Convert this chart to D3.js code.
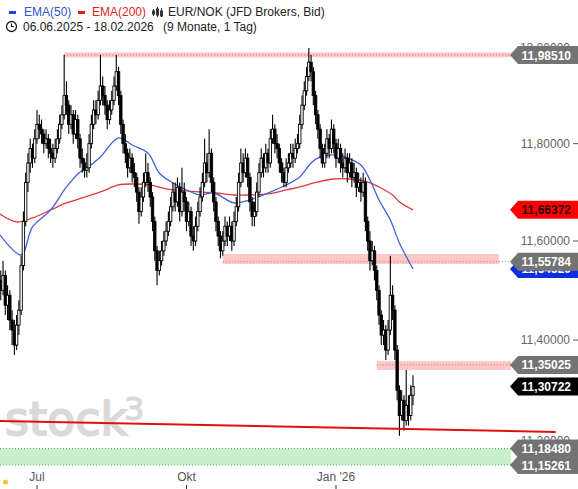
<!DOCTYPE html>
<html>
<head>
<meta charset="utf-8">
<script src="https://cdn.jsdelivr.net/npm/d3@7"></script>
<style>
  html, body { margin: 0; padding: 0; background: #fff; }
  svg { display: block; font-family: "Liberation Sans", Arial, sans-serif; }
</style>
</head>
<body>
<svg id="chart" width="578" height="489"></svg>
<script>
// daily bars EUR/NOK, 06.06.2025 - 18.02.2026 (weekdays)
const closes = [
  11.52, 11.50, 11.53, 11.47, 11.49, 11.44, 11.42, 11.39, 11.43, 11.46,
  11.55, 11.64, 11.72, 11.76, 11.79, 11.77, 11.81, 11.84, 11.83, 11.82,
  11.80, 11.81, 11.79, 11.78, 11.77, 11.79, 11.81, 11.84, 11.86, 11.90,
  11.88, 11.84, 11.86, 11.82, 11.85, 11.81, 11.77, 11.76, 11.745, 11.75,
  11.80, 11.84, 11.87, 11.86, 11.89, 11.92, 11.90, 11.88, 11.85, 11.87,
  11.89, 11.92, 11.95, 11.90, 11.84, 11.80, 11.78, 11.75, 11.77, 11.74,
  11.73, 11.70, 11.66, 11.69, 11.72, 11.74, 11.72, 11.69, 11.64, 11.58,
  11.54, 11.56, 11.58, 11.60, 11.62, 11.64, 11.67, 11.70, 11.68, 11.71,
  11.66, 11.70, 11.68, 11.64, 11.66, 11.61, 11.60, 11.63, 11.66, 11.69,
  11.72, 11.76, 11.74, 11.78, 11.72, 11.68, 11.64, 11.61, 11.58, 11.60,
  11.63, 11.61, 11.63, 11.60, 11.64, 11.67, 11.72, 11.76, 11.74, 11.77,
  11.73, 11.68, 11.65, 11.66, 11.70, 11.74, 11.77, 11.75, 11.78, 11.76,
  11.81, 11.83, 11.80, 11.79, 11.76, 11.74, 11.72, 11.75, 11.76, 11.78,
  11.77, 11.79, 11.80, 11.84, 11.88, 11.91, 11.94, 11.97, 11.95, 11.90,
  11.86, 11.83, 11.79, 11.76, 11.78, 11.81, 11.79, 11.83, 11.80, 11.77,
  11.79, 11.76, 11.75, 11.77, 11.74, 11.76, 11.73, 11.74, 11.71, 11.72,
  11.70, 11.72, 11.64, 11.60, 11.56, 11.58, 11.54, 11.50, 11.45, 11.41,
  11.42, 11.38, 11.42, 11.49, 11.46, 11.38, 11.30, 11.25, 11.28, 11.24,
  11.27, 11.25, 11.29, 11.30722
];
const highs = [
  11.55, 11.54, 11.56, 11.54, 11.51, 11.50, 11.46, 11.44, 11.45, 11.48,
  11.57, 11.66, 11.74, 11.78, 11.81, 11.80, 11.83, 11.87, 11.86, 11.85,
  11.83, 11.83, 11.82, 11.81, 11.80, 11.81, 11.83, 11.86, 11.88, 11.985,
  11.93, 11.89, 11.88, 11.87, 11.87, 11.86, 11.82, 11.79, 11.77, 11.78,
  11.82, 11.86, 11.89, 11.89, 11.91, 11.985, 11.94, 11.92, 11.89, 11.89,
  11.91, 11.94, 11.985, 11.96, 11.91, 11.85, 11.82, 11.79, 11.79, 11.78,
  11.76, 11.74, 11.71, 11.71, 11.74, 11.78, 11.76, 11.73, 11.70, 11.65,
  11.59, 11.58, 11.60, 11.62, 11.64, 11.66, 11.69, 11.72, 11.72, 11.73,
  11.72, 11.75, 11.72, 11.69, 11.68, 11.67, 11.63, 11.65, 11.68, 11.71,
  11.74, 11.81, 11.78, 11.83, 11.79, 11.73, 11.69, 11.65, 11.62, 11.62,
  11.65, 11.64, 11.65, 11.64, 11.66, 11.69, 11.74, 11.79, 11.78, 11.79,
  11.78, 11.74, 11.69, 11.68, 11.72, 11.76, 11.79, 11.78, 11.80, 11.79,
  11.83, 11.86, 11.84, 11.82, 11.80, 11.77, 11.75, 11.77, 11.78, 11.80,
  11.80, 11.81, 11.82, 11.86, 11.90, 11.93, 11.96, 12.00, 11.985, 11.96,
  11.91, 11.87, 11.84, 11.80, 11.80, 11.83, 11.82, 11.85, 11.84, 11.81,
  11.81, 11.80, 11.78, 11.79, 11.78, 11.78, 11.77, 11.76, 11.75, 11.74,
  11.73, 11.74, 11.73, 11.65, 11.62, 11.60, 11.59, 11.55, 11.51, 11.46,
  11.44, 11.43, 11.44, 11.57, 11.51, 11.47, 11.39, 11.31, 11.30, 11.29,
  11.34, 11.29, 11.31, 11.33
];
const lows = [
  11.49, 11.48, 11.49, 11.45, 11.44, 11.42, 11.39, 11.37, 11.38, 11.41,
  11.45, 11.54, 11.63, 11.70, 11.74, 11.75, 11.76, 11.80, 11.81, 11.80,
  11.78, 11.79, 11.77, 11.76, 11.75, 11.76, 11.78, 11.80, 11.83, 11.85,
  11.86, 11.82, 11.83, 11.80, 11.81, 11.79, 11.75, 11.74, 11.73, 11.73,
  11.74, 11.79, 11.83, 11.84, 11.85, 11.88, 11.88, 11.86, 11.83, 11.84,
  11.86, 11.88, 11.91, 11.88, 11.82, 11.78, 11.76, 11.73, 11.74, 11.72,
  11.71, 11.68, 11.635, 11.65, 11.68, 11.71, 11.70, 11.67, 11.62, 11.56,
  11.51, 11.53, 11.55, 11.57, 11.59, 11.61, 11.63, 11.66, 11.66, 11.67,
  11.64, 11.65, 11.66, 11.62, 11.63, 11.59, 11.58, 11.59, 11.62, 11.65,
  11.68, 11.71, 11.72, 11.73, 11.70, 11.66, 11.62, 11.59, 11.565, 11.57,
  11.59, 11.59, 11.60, 11.58, 11.59, 11.63, 11.66, 11.71, 11.72, 11.73,
  11.71, 11.66, 11.63, 11.63, 11.65, 11.69, 11.73, 11.73, 11.74, 11.74,
  11.75, 11.80, 11.78, 11.77, 11.74, 11.72, 11.71, 11.71, 11.74, 11.75,
  11.75, 11.76, 11.78, 11.79, 11.83, 11.87, 11.90, 11.93, 11.93, 11.88,
  11.84, 11.81, 11.77, 11.75, 11.75, 11.77, 11.77, 11.78, 11.78, 11.75,
  11.76, 11.74, 11.73, 11.74, 11.72, 11.73, 11.71, 11.72, 11.69, 11.70,
  11.68, 11.69, 11.62, 11.58, 11.54, 11.55, 11.52, 11.48, 11.43, 11.39,
  11.39, 11.36, 11.37, 11.41, 11.44, 11.36, 11.28, 11.21, 11.24, 11.22,
  11.23, 11.23, 11.24, 11.27
];
const firstOpen = 11.53;

// moving averages, read at bar positions
const ema50Bars = [0, 10, 15, 23, 30, 36, 39, 45, 53, 59, 66, 71, 77, 83, 89, 95, 104, 111, 119, 127, 133, 138, 142, 148, 154, 160, 164, 168, 173, 177, 183];
const ema50Vals = [11.6164, 11.5716, 11.6286, 11.6634, 11.7106, 11.7415, 11.7497, 11.7725, 11.8118, 11.7972, 11.7806, 11.7394, 11.7188, 11.7044, 11.6941, 11.6982, 11.6777, 11.6839, 11.6982, 11.7147, 11.7311, 11.7600, 11.7725, 11.7766, 11.7704, 11.7560, 11.7250, 11.6839, 11.6429, 11.5960, 11.5432];
const ema200Bars = [0, 8, 15, 23, 30, 37, 45, 53, 59, 67, 74, 83, 89, 96, 104, 111, 119, 127, 133, 141, 148, 155, 163, 168, 174, 177, 183];
const ema200Vals = [11.6572, 11.6389, 11.6470, 11.6634, 11.6777, 11.6880, 11.7003, 11.7147, 11.7167, 11.7147, 11.7065, 11.7024, 11.7003, 11.6982, 11.6941, 11.6941, 11.6962, 11.7044, 11.7106, 11.7209, 11.7270, 11.7270, 11.7209, 11.7106, 11.6941, 11.6798, 11.66372];

// drawn levels and zones
const levelVals = [11.98510, 11.55784, 11.35025];
const levelStartBars = [29, 99, 167];
const zoneHi = [11.9905, 11.5736, 11.3582];
const zoneLo = [11.9800, 11.5533, 11.3403];
const supportHi = 11.18480;
const supportLo = 11.15261;
const trendBars = [0, 246];
const trendVals = [11.2392, 11.2175];

const yTicks = [11.2, 11.4, 11.6, 11.8, 12.0];
const xTickDates = ["2025-07-01", "2025-10-01", "2026-01-01"];
const xTickLabels = ["Jul", "Okt", "Jan '26"];

// ------------------------------------------------------------------
const svg = d3.select("#chart");
const fmt = v => d3.format(".5f")(v).replace(".", ",");

const days = d3.timeDay.range(new Date(2025, 5, 6), new Date(2026, 1, 19))
    .filter(d => d.getDay() !== 0 && d.getDay() !== 6);
const n = Math.min(days.length, closes.length);

const x = d3.scaleLinear().domain([0, 183]).range([-1.5, 413]);
const y = d3.scaleLog().domain([supportLo, levelVals[0]]).range([465, 55]);

const bars = d3.range(n).map(i => ({
    i: i,
    open: i ? closes[i - 1] : firstOpen,
    close: closes[i],
    high: highs[i],
    low: lows[i]
}));

// watermark
const wm = svg.append("g").attr("fill", "#d9d9d9").attr("stroke", "#d9d9d9")
    .style("font-family", "'DejaVu Sans', sans-serif");
wm.append("text").attr("x", 5).attr("y", 435).attr("font-size", 46)
    .attr("stroke-width", 2).text("stock");
wm.append("text").attr("x", 124).attr("y", 420).attr("font-size", 32)
    .attr("stroke-width", 1.2).text("3");

// support zone (green)
svg.append("rect")
    .attr("x", 0).attr("width", 511)
    .attr("y", y(supportHi)).attr("height", y(supportLo) - y(supportHi))
    .attr("fill", "#c9efc9");
[supportHi, supportLo].forEach(v => {
    svg.append("line")
        .attr("x1", 0).attr("x2", 511).attr("y1", y(v)).attr("y2", y(v))
        .attr("stroke", "#5aa85a").attr("stroke-width", 1)
        .attr("stroke-dasharray", "1,2");
});

// resistance zones (pink)
const zoneEnd = [511, 499, 511];
levelVals.forEach((v, k) => {
    const x0 = x(levelStartBars[k]);
    svg.append("rect")
        .attr("x", x0).attr("width", zoneEnd[k] - x0)
        .attr("y", y(zoneHi[k])).attr("height", y(zoneLo[k]) - y(zoneHi[k]))
        .attr("fill", "#ffc9c9");
    svg.append("line")
        .attr("x1", x0).attr("x2", 511).attr("y1", y(v)).attr("y2", y(v))
        .attr("stroke", "#cc6666").attr("stroke-width", 1)
        .attr("stroke-dasharray", "1,2");
});

// moving averages
const line = d3.line().x(d => x(d[0])).y(d => y(d[1])).curve(d3.curveCatmullRom);
svg.append("path")
    .attr("d", line(d3.zip(ema200Bars, ema200Vals)))
    .attr("fill", "none").attr("stroke", "#dd3b3b").attr("stroke-width", 1.3);
svg.append("path")
    .attr("d", line(d3.zip(ema50Bars, ema50Vals)))
    .attr("fill", "none").attr("stroke", "#3f62d8").attr("stroke-width", 1.3);

// candles
const cg = svg.append("g");
cg.selectAll("line").data(bars).join("line")
    .attr("x1", d => x(d.i)).attr("x2", d => x(d.i))
    .attr("y1", d => y(d.high)).attr("y2", d => y(d.low))
    .attr("stroke", "#000").attr("stroke-width", 1.1);
cg.selectAll("rect").data(bars).join("rect")
    .attr("x", d => x(d.i) - 1.2).attr("width", 2.4)
    .attr("y", d => y(Math.max(d.open, d.close)))
    .attr("height", d => Math.max(1, Math.abs(y(d.open) - y(d.close))))
    .attr("fill", d => d.close >= d.open ? "#fff" : "#000")
    .attr("stroke", "#000").attr("stroke-width", 0.9);

// trend line
svg.append("path")
    .attr("d", d3.line().x(d => x(d[0])).y(d => y(d[1]))(d3.zip(trendBars, trendVals)))
    .attr("stroke", "#e01010").attr("stroke-width", 2).attr("fill", "none");

// y axis labels
const ya = svg.append("g").attr("font-size", 12).attr("fill", "#666");
yTicks.forEach(v => {
    ya.append("text").attr("x", 570).attr("y", y(v) + 4)
        .attr("text-anchor", "end").text(fmt(v));
    ya.append("line").attr("x1", 573).attr("x2", 578)
        .attr("y1", y(v)).attr("y2", y(v)).attr("stroke", "#555");
});

// x axis labels
const xa = svg.append("g").attr("font-size", 12).attr("fill", "#555");
xTickDates.forEach((s, k) => {
    const t = d3.timeParse("%Y-%m-%d")(s);
    const idx = days.findIndex(d => d >= t);
    xa.append("text").attr("x", x(idx)).attr("y", 481)
        .attr("text-anchor", "middle").text(xTickLabels[k]);
    xa.append("line").attr("x1", x(idx)).attr("x2", x(idx))
        .attr("y1", 485).attr("y2", 489).attr("stroke", "#333");
});
svg.append("circle").attr("cx", 5.5).attr("cy", 482).attr("r", 2.5).attr("fill", "#f3c13a");

// price badges
function badge(v, fill, color) {
    const c = y(v);
    svg.append("path")
        .attr("d", `M510,${c} L518,${c - 9} L578,${c - 9} L578,${c + 9} L518,${c + 9} Z`)
        .attr("fill", fill);
    svg.append("text").attr("x", 571).attr("y", c + 4.5)
        .attr("text-anchor", "end").attr("font-size", 12).attr("font-weight", "bold")
        .attr("fill", color).text(fmt(v));
}
badge(ema50Vals[ema50Vals.length - 1], "#0a2ee0", "#fff");
badge(levelVals[1], "#737373", "#fff");
badge(ema200Vals[ema200Vals.length - 1], "#ff0000", "#2a0000");
badge(levelVals[0], "#737373", "#fff");
badge(levelVals[2], "#737373", "#fff");
badge(closes[n - 1], "#000", "#fff");
badge(supportHi, "#737373", "#fff");
badge(supportLo, "#737373", "#fff");

// header / legend
const hd = svg.append("g").attr("font-size", 12);
hd.append("rect").attr("x", 9).attr("y", 11).attr("width", 7).attr("height", 3).attr("fill", "#1f44d6");
hd.append("text").attr("x", 24).attr("y", 16).attr("fill", "#2f55d0").text("EMA(50)");
hd.append("rect").attr("x", 78).attr("y", 11).attr("width", 7).attr("height", 3).attr("fill", "#e01b1b");
hd.append("text").attr("x", 92).attr("y", 16).attr("fill", "#e02424").text("EMA(200)");
const ic = hd.append("g").attr("stroke", "#333").attr("stroke-width", 1);
[[153, 9, 16, 11, 14], [157, 7, 17, 9, 15], [161, 8, 17, 11, 16]].forEach(c => {
    ic.append("line").attr("x1", c[0] + 0.5).attr("x2", c[0] + 0.5).attr("y1", c[1]).attr("y2", c[2]);
    ic.append("rect").attr("x", c[0] - 0.5).attr("y", c[3]).attr("width", 2).attr("height", c[4] - c[3]).attr("fill", "#333");
});
hd.append("text").attr("x", 168).attr("y", 16).attr("fill", "#222").text("EUR/NOK (JFD Brokers, Bid)");
hd.append("circle").attr("cx", 11.5).attr("cy", 26.5).attr("r", 5).attr("fill", "none")
    .attr("stroke", "#222").attr("stroke-width", 1.3);
hd.append("path").attr("d", "M11.5,23.5 V26.5 H14").attr("fill", "none")
    .attr("stroke", "#222").attr("stroke-width", 1.2);
hd.append("text").attr("x", 23).attr("y", 31).attr("fill", "#222").text("06.06.2025 - 18.02.2026");
hd.append("text").attr("x", 163).attr("y", 31).attr("fill", "#222").text("(9 Monate, 1 Tag)");
</script>
</body>
</html>
